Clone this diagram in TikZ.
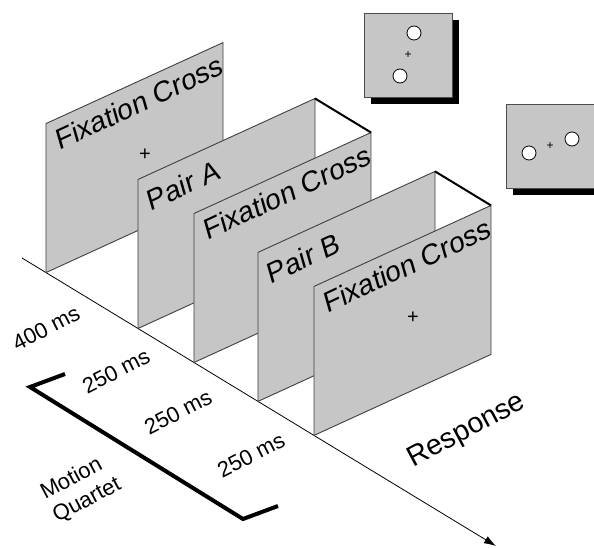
\documentclass[tikz,border=0pt]{standalone}
\usepackage{fontspec}
\setmainfont{Liberation Sans}
\usetikzlibrary{calc, shadows, arrows.meta, positioning}
\definecolor{panelgray}{RGB}{198,198,198}

\begin{document}
\begin{tikzpicture}[
  x=1pt, y=-1pt,
  panel/.style={fill=panelgray, draw=black!75, line width=0.9pt},
  fold/.style={draw=black, line width=2pt},
  title/.style={font=\fontsize{28.5}{32}\selectfont, inner sep=0pt,
    cm={0.906,0.423,-0.276,0.961,(0,0)}},
  timing/.style={font=\fontsize{22}{26}\selectfont, rotate=27, inner sep=0pt},
  cross/.style={font=\fontsize{20}{20}\selectfont, inner sep=0pt},
  screen/.style={fill=panelgray, draw=black!70, line width=0.8pt,
    minimum width=88pt, minimum height=84pt,
    drop shadow={shadow xshift=7pt, shadow yshift=-7pt, fill=black, opacity=1}},
  dot/.style={circle, draw, fill=white, line width=0.8pt, minimum size=14pt, inner sep=0pt}]

  \clip (0,0) rectangle (594,548);

  % time axis
  \coordinate (t0) at (22,258);
  \coordinate (t1) at (496,546);
  \draw[-{Latex[length=12pt,width=8pt]}, line width=0.8pt] (t0) -- (t1);

  % panels, back to front
  \foreach \n/\x in {1/46, 2/138, 3/194, 4/258, 5/314}
    \filldraw[panel] ($(t0)!{(\x-22)/474}!(t1)$) coordinate (b\n)
      -- ++(0,-149) coordinate (tl\n) -- ++(177,-81) coordinate (tr\n)
      -- ++(0,149) -- cycle;

  \draw[fold] (tr2) -- (tr3);
  \draw[fold] (tr4) -- (tr5);

  \node[title] (fix1) at ($(tl1)+(93,-21)$) {Fixation Cross};
  \node[cross] (plus1) at ($(tl1)+(99,31)$) {+};
  \node[title, anchor=west] (pairA) at ($(tl2)+(10,22)$) {Pair A};
  \node[title] (fix2) at ($(tl3)+(93,-21)$) {Fixation Cross};
  \node[title, anchor=west] (pairB) at ($(tl4)+(10,22)$) {Pair B};
  \node[title] (fix3) at ($(tl5)+(93,-21)$) {Fixation Cross};
  \node[cross] (plus3) at ($(tl5)+(99,31)$) {+};

  % durations
  \node[timing] (d400) at (46,328) {400 ms};
  \node[timing] (d250a) at (116,371) {250 ms};
  \node[timing] (d250b) at (178,412) {250 ms};
  \node[timing] (d250c) at (251,455) {250 ms};
  \node[font=\fontsize{28.5}{32}\selectfont, inner sep=0pt, rotate=28] (resp) at (467,431) {Response};

  % motion quartet bracket
  \draw[line width=4pt] (65,374) -- (30,387) -- (243,519) -- (278,506);
  \node[timing, align=left, rotate=1] (mq) at (81,489) {Motion\\Quartet};

  % response screens
  \node[screen] (scrA) at (408,55) {};
  \node[dot] (scrA1) at ($(scrA)+(6,-22)$) {};
  \node[dot] (scrA2) at ($(scrA)+(-8,21)$) {};
  \node[cross, font=\fontsize{12}{12}\selectfont] (crossA) at (scrA) {+};

  \node[screen] (scrB) at (550,146) {};
  \node[dot] (scrB1) at ($(scrB)+(-21,7)$) {};
  \node[dot] (scrB2) at ($(scrB)+(22,-7)$) {};
  \node[cross, font=\fontsize{12}{12}\selectfont] (crossB) at (scrB) {+};
\end{tikzpicture}
\end{document}
